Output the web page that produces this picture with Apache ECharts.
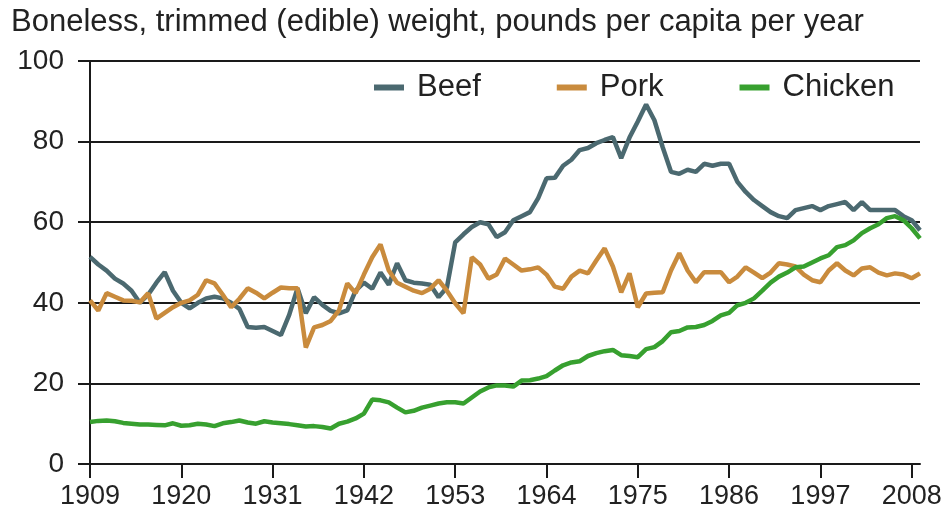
<!DOCTYPE html>
<html>
<head>
<meta charset="utf-8">
<script src="https://cdn.jsdelivr.net/npm/echarts@6/dist/echarts.min.js"></script>
<style>
html,body{margin:0;padding:0;background:#fff;}
#chart{width:946px;height:517px;}
</style>
</head>
<body>
<div id="chart"></div>
<script>
const titleText = 'Boneless, trimmed (edible) weight, pounds per capita per year';
const firstYear = 1909;
const seriesNames = ['Beef', 'Pork', 'Chicken'];

// 1909 .. 2009
const beef = [
  51.4, 49.5, 48, 46, 44.8, 43, 40, 42, 45, 47.6,
  43, 40, 38.6, 40, 41.1, 41.5, 41.1, 40, 38.5, 34,
  33.8, 34, 33, 32, 37, 43.6, 37.4, 41.4, 39.5, 38,
  37.4, 38.1, 43, 45, 43.5, 47.5, 44.5, 49.8, 45.6, 45,
  44.8, 44.5, 41.4, 43.8, 55, 57, 58.8, 60, 59.5, 56.3,
  57.5, 60.5, 61.5, 62.5, 66, 70.9, 71, 74, 75.5, 77.9,
  78.4, 79.6, 80.4, 81.1, 75.9, 81, 85, 89.2, 85.3, 78.6,
  72.5, 72, 73, 72.5, 74.5, 74, 74.5, 74.5, 70, 67.5,
  65.5, 64, 62.5, 61.5, 61, 63, 63.5, 64, 63, 64,
  64.5, 65, 63, 65, 63, 63, 63, 63, 61.5, 60.5,
  58
];
const pork = [
  40.6, 38.1, 42.4, 41.5, 40.6, 40.5, 40.1, 42.4, 36.1, 37.5,
  38.9, 40, 40.6, 42, 45.6, 44.8, 42, 38.9, 41, 43.6,
  42.5, 41.1, 42.5, 43.8, 43.6, 43.6, 28.9, 33.9, 34.5, 35.5,
  38.1, 44.8, 42.4, 47, 51.3, 54.5, 48, 45, 44, 43,
  42.4, 43.5, 45.6, 43, 39.9, 37.4, 51.3, 49.5, 46, 47,
  51, 49.5, 48, 48.3, 48.8, 47, 44, 43.5, 46.5, 48,
  47.3, 50.5, 53.5, 49, 42.6, 47.3, 38.9, 42.3, 42.5, 42.6,
  48, 52.3, 48, 45.1, 47.6, 47.6, 47.6, 45.1, 46.5, 48.8,
  47.5, 46.1, 47.5, 49.8, 49.5, 49, 47, 45.6, 45.1, 48,
  49.8, 48, 46.8, 48.5, 48.8, 47.5, 46.8, 47.3, 47, 46.1,
  47.3
];
const chicken = [
  10.4, 10.7, 10.8, 10.6, 10.2, 10, 9.8, 9.8, 9.7, 9.6,
  10.1, 9.5, 9.6, 10, 9.8, 9.4, 10.1, 10.4, 10.8, 10.3,
  10, 10.6, 10.3, 10.1, 9.9, 9.6, 9.3, 9.4, 9.2, 8.8,
  10, 10.5, 11.3, 12.5, 16, 15.8, 15.3, 14, 12.8, 13.2,
  14, 14.5, 15, 15.3, 15.3, 15, 16.5, 18, 19, 19.5,
  19.5, 19.2, 20.7, 20.8, 21.2, 21.8, 23.2, 24.5, 25.2, 25.5,
  26.8, 27.5, 28, 28.3, 27, 26.8, 26.5, 28.5, 29, 30.5,
  32.7, 33, 33.9, 34, 34.5, 35.5, 36.9, 37.5, 39.4, 40,
  41.1, 43, 45, 46.5, 47.5, 48.8, 49, 50, 51, 51.8,
  53.8, 54.3, 55.5, 57.3, 58.5, 59.5, 61, 61.5, 60.5, 58.5,
  56
];
const yTicks = [0, 20, 40, 60, 80, 100];
const xTickLabels = ['1909', '1920', '1931', '1942', '1953', '1964', '1975', '1986', '1997', '2008'];

const years = beef.map((_, i) => String(firstYear + i));
const colors = ['#4b6970', '#c98b3d', '#37a02f'];
const FONT = '"Liberation Sans", Arial, sans-serif';

const chart = echarts.init(document.getElementById('chart'), null, {renderer: 'canvas'});
chart.setOption({
  animation: false,
  backgroundColor: '#ffffff',
  title: {
    text: titleText,
    left: 6, top: 2,
    textStyle: {fontFamily: FONT, fontSize: 31, fontWeight: 'normal', color: '#222'}
  },
  legend: {
    data: seriesNames,
    left: 369, top: 67,
    icon: 'rect',
    itemWidth: 30, itemHeight: 6,
    itemGap: 76,
    textStyle: {fontFamily: FONT, fontSize: 31, color: '#222', padding: [0, 0, 0, 8]}
  },
  grid: {left: 90, right: 26, top: 61, bottom: 53, containLabel: false},
  xAxis: {
    type: 'category',
    data: years,
    boundaryGap: false,
    axisLine: {show: true, lineStyle: {color: '#1a1a1a', width: 2}},
    axisTick: {show: true, interval: 10, length: 14, lineStyle: {color: '#1a1a1a', width: 2}},
    axisLabel: {
      interval: 10, margin: 19,
      fontFamily: FONT, fontSize: 27, color: '#222',
      formatter: v => xTickLabels.indexOf(v) >= 0 ? v : ''
    },
    splitLine: {show: false}
  },
  yAxis: {
    type: 'value',
    min: yTicks[0], max: yTicks[yTicks.length - 1], interval: 20,
    axisLine: {show: true, lineStyle: {color: '#1a1a1a', width: 2}},
    axisTick: {show: true, length: 12, lineStyle: {color: '#1a1a1a', width: 2}},
    axisLabel: {margin: 26, fontFamily: FONT, fontSize: 28, color: '#222'},
    splitLine: {show: true, lineStyle: {color: '#1a1a1a', width: 2}}
  },
  series: [
    {name: seriesNames[0], type: 'line', data: beef, showSymbol: false, symbol: 'none',
     lineStyle: {color: colors[0], width: 4.5}, itemStyle: {color: colors[0]}},
    {name: seriesNames[1], type: 'line', data: pork, showSymbol: false, symbol: 'none',
     lineStyle: {color: colors[1], width: 4.5}, itemStyle: {color: colors[1]}},
    {name: seriesNames[2], type: 'line', data: chicken, showSymbol: false, symbol: 'none',
     lineStyle: {color: colors[2], width: 4.5}, itemStyle: {color: colors[2]}}
  ]
});
</script>
</body>
</html>
